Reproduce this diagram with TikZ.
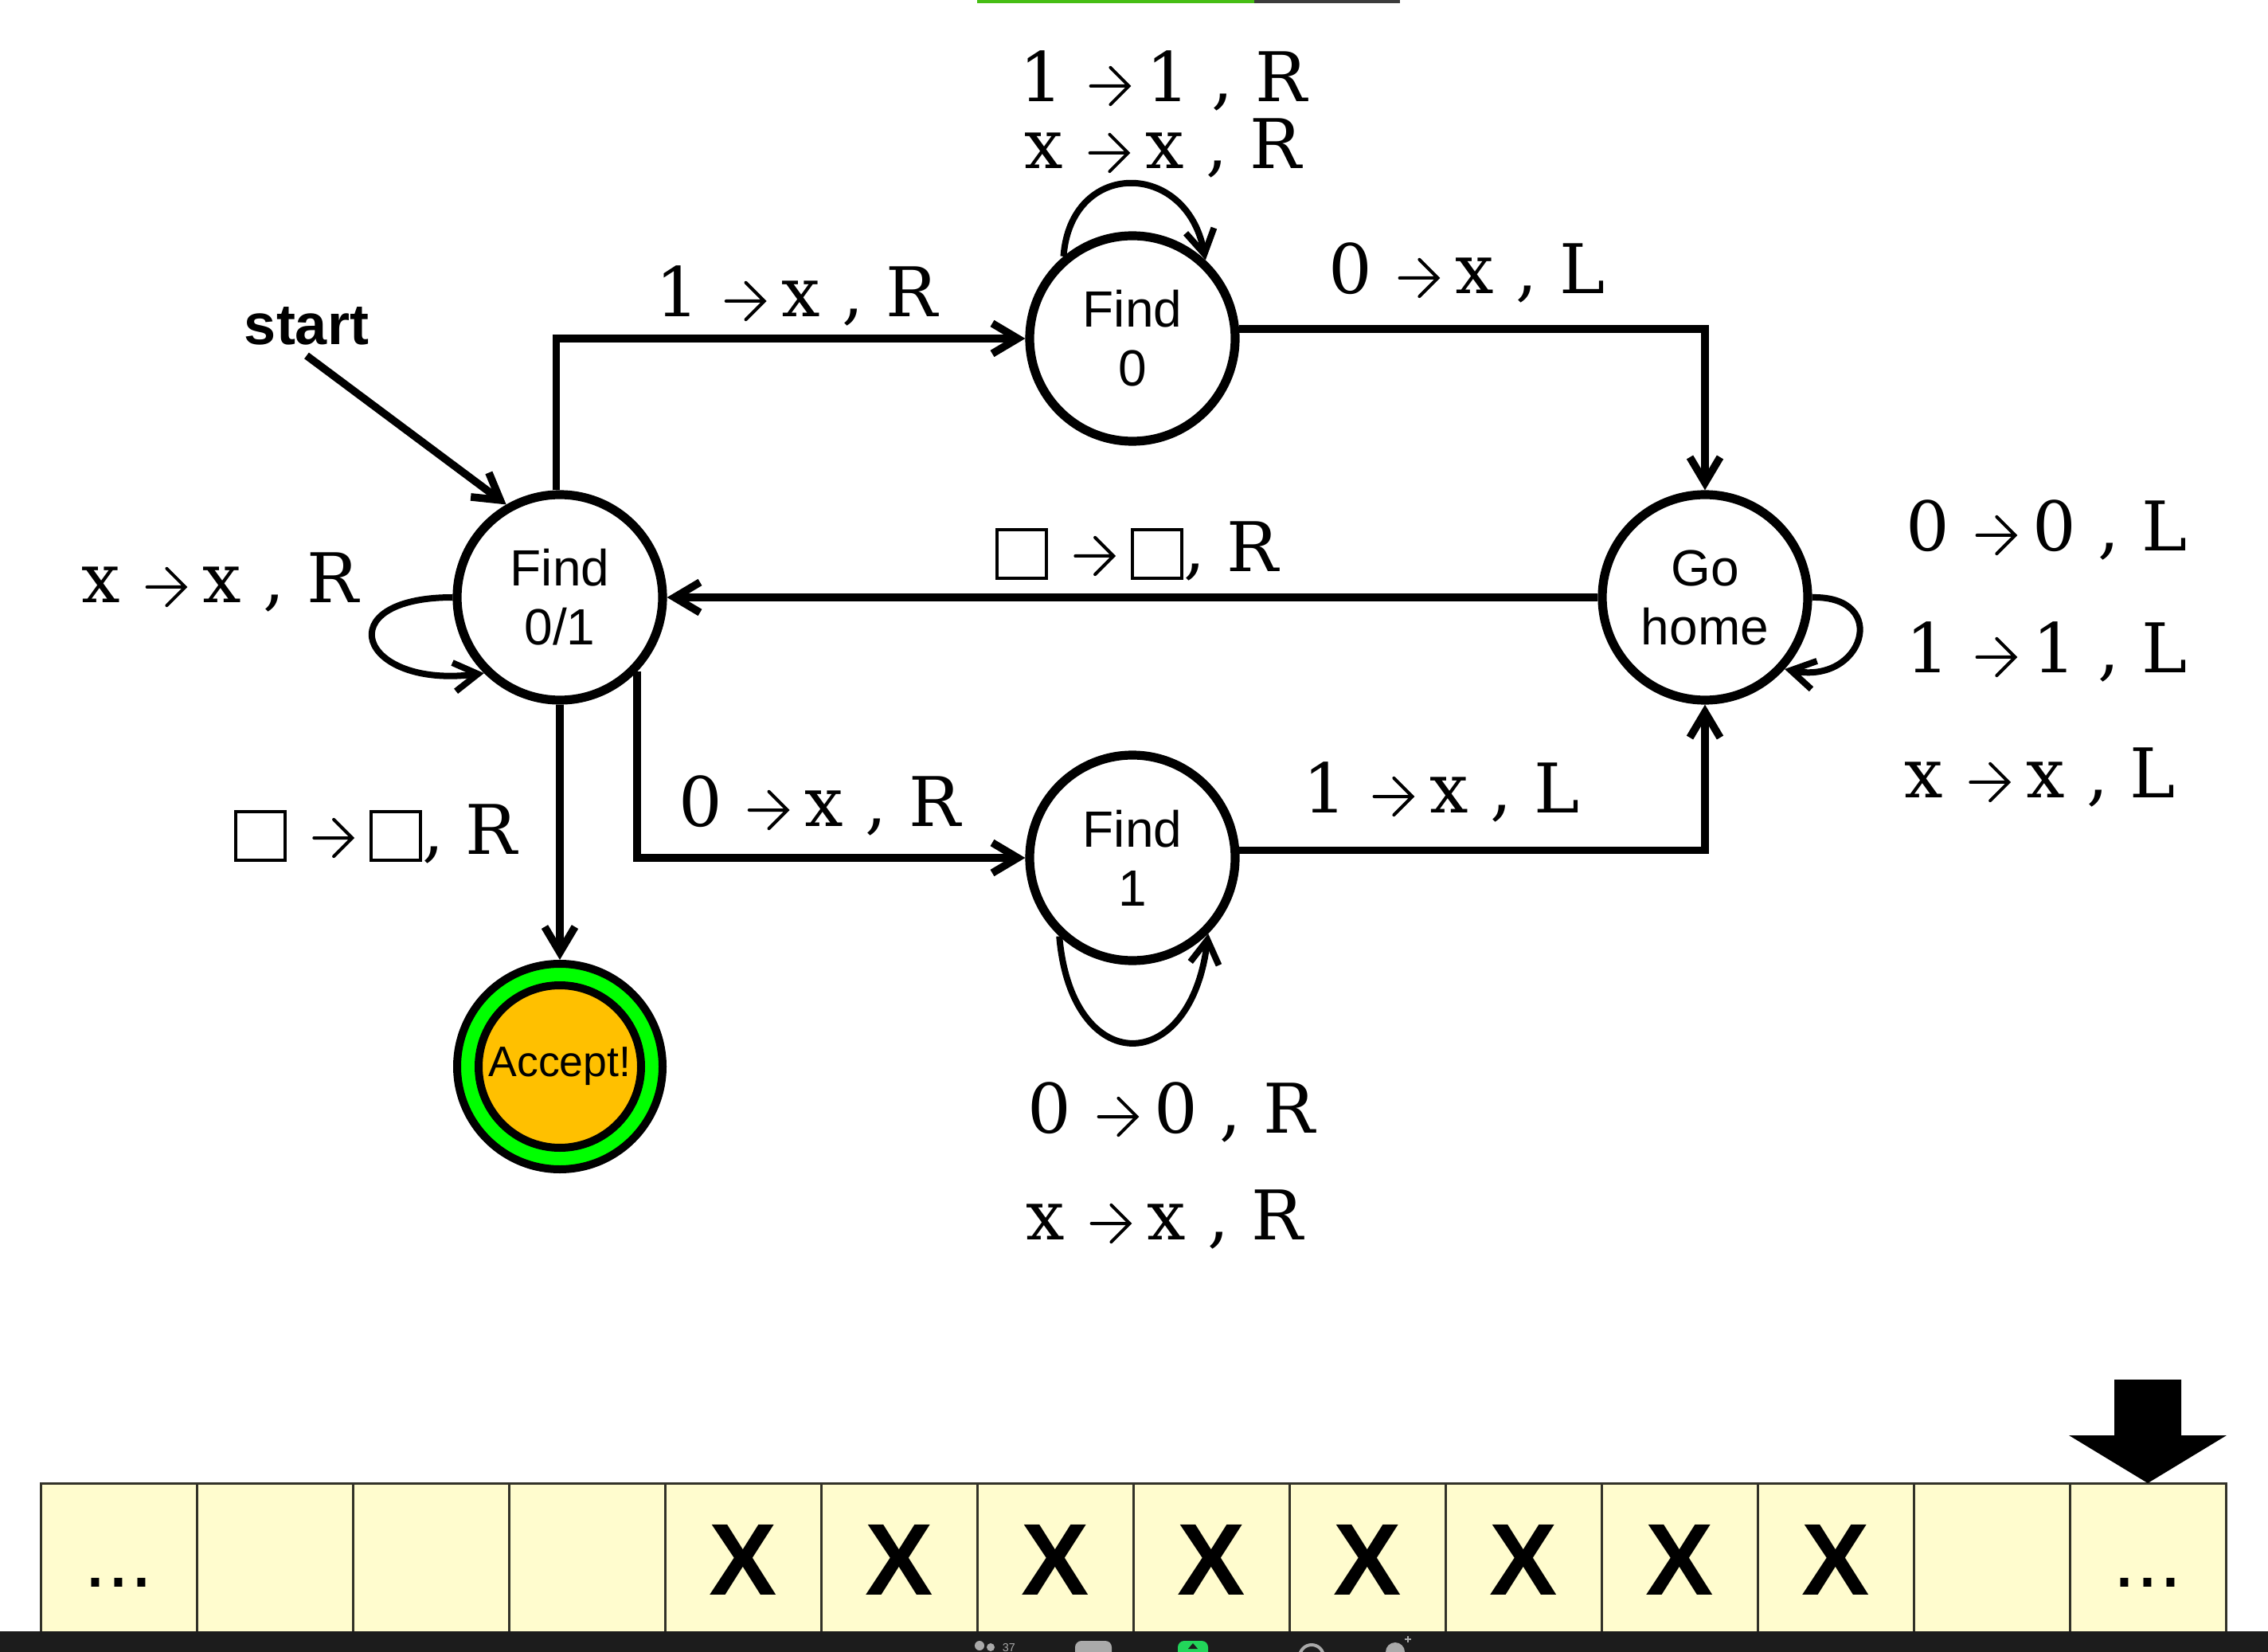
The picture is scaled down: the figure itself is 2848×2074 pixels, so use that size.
\documentclass[tikz,border=0pt]{standalone}
\usepackage{fontspec}
\setmainfont{Liberation Sans}
\newfontfamily\labelfont{DejaVu Serif}
\usetikzlibrary{arrows.meta}

\definecolor{tapefill}{RGB}{255,252,206}
\definecolor{tapeline}{RGB}{50,50,40}
\definecolor{accgreen}{RGB}{0,255,0}
\definecolor{accorange}{RGB}{255,192,0}
\definecolor{barback}{RGB}{28,28,28}
\definecolor{progress}{RGB}{70,190,20}
\definecolor{progressrest}{RGB}{60,60,60}
\definecolor{icongray}{RGB}{170,170,170}
\definecolor{icongreen}{RGB}{34,214,90}

\newsavebox\arrowglyph
\newsavebox\blankglyph
\newcommand\goesto{\hspace{8pt}\usebox\arrowglyph\hspace{5pt}}
\newcommand\tblank{\usebox\blankglyph}

\begin{document}
% small arrow and blank-cell symbol used inside the transition rules
\sbox\arrowglyph{\begin{pgfpicture}%
  \pgfsetbaseline{0pt}%
  \pgfsetlinewidth{1pt}\pgfsetroundcap
  \pgfpathmoveto{\pgfpoint{0pt}{5pt}}\pgfpathlineto{\pgfpoint{12pt}{5pt}}%
  \pgfpathmoveto{\pgfpoint{6.2pt}{10.8pt}}\pgfpathlineto{\pgfpoint{12pt}{5pt}}%
  \pgfpathlineto{\pgfpoint{6.2pt}{-0.8pt}}%
  \pgfusepath{stroke}%
  \end{pgfpicture}}
\sbox\blankglyph{\begin{pgfpicture}%
  \pgfsetbaseline{0pt}%
  \pgfsetlinewidth{1pt}%
  \pgfpathrectanglecorners{\pgfpoint{0.5pt}{-2pt}}{\pgfpoint{16pt}{13.3pt}}%
  \pgfusepath{stroke}%
  \end{pgfpicture}}%
\begin{tikzpicture}[x=0.25pt,y=-0.25pt,
  state/.style={circle, draw, line width=2.8pt, minimum size=64.5pt,
    inner sep=0pt, align=center, fill=white,
    font=\fontsize{16pt}{18.5pt}\selectfont},
  edge/.style={line width=2.4pt, -{Straight Barb[length=8pt,width=9.5pt]}},
  loopedge/.style={line width=2pt, -{Straight Barb[length=7.5pt,width=9pt]}},
  trlabel/.style={font=\labelfont\fontsize{21.5pt}{26pt}\selectfont,
    anchor=base, inner sep=0pt},
  tapecell/.style={fill=tapefill, draw=tapeline, line width=0.75pt},
  tapemark/.style={font=\bfseries\fontsize{32pt}{32pt}\selectfont, inner sep=0pt},
  tapedots/.style={font=\fontsize{26pt}{26pt}\selectfont, anchor=base, inner sep=0pt}
]
\useasboundingbox (0,0) rectangle (2848,2074);
\fill[white] (0,0) rectangle (2848,2074);

% progress strip along the top edge
\fill[progress] (1227,0) rectangle (1575,4);
\fill[progressrest] (1575,0) rectangle (1758,4);

% states
\node[state] (find01) at (703,750) {Find\\0/1};
\node[state] (find0) at (1422,425) {Find\\0};
\node[state] (gohome) at (2141,750) {Go\\home};
\node[state] (find1) at (1422,1077) {Find\\1};
\node[circle, draw, fill=accgreen, line width=2.5pt, minimum size=64.5pt,
  inner sep=0pt] (accept) at (703,1339) {};
\node[circle, draw, fill=accorange, line width=2.5pt, minimum size=51pt,
  inner sep=0pt, font=\fontsize{13.4pt}{15pt}\selectfont] (acceptcore) at (accept) {Accept!};

\node[font=\bfseries\fontsize{18pt}{18pt}\selectfont, anchor=base, inner sep=3pt]
  (start) at (385,433) {start};

% transitions
\draw[edge] (start.south) -- (find01.120);
\draw[edge] (find01.92) |- (find0.west);
\draw[edge] (find0.5) -| (gohome.north);
\draw[edge] (gohome.west) -- (find01.east);
\draw[edge] (find01.-44) |- (find1.west);
\draw[edge] (find1.4) -| (gohome.south);
\draw[edge] (find01.south) -- (accept.north);

% self-loops
\draw[loopedge] (find0.130) .. controls +(9,-122) and +(-24,-126) .. (find0.47);
\draw[loopedge] (find1.-133) .. controls +(15,178) and +(-22,181) .. (find1.-45);
\draw[loopedge] (gohome.0) .. controls +(99,-2) and +(99,20) .. (gohome.-42);
\draw[loopedge] (find01.180) .. controls +(-158,0) and +(-158,20) .. (find01.225);

% transition rules
\node[trlabel] (r0a) at (1461,128) {1\goesto 1 , R};
\node[trlabel] (r0b) at (1460,212) {x\goesto x , R};
\node[trlabel] (r1) at (1000,398) {1\goesto x , R};
\node[trlabel] (r2) at (1842,369) {0\goesto x , L};
\node[trlabel] (r3) at (1428,718) {\tblank\goesto\tblank, R};
\node[trlabel] (r4) at (276,757) {x\goesto x , R};
\node[trlabel] (r5) at (472,1072) {\tblank\goesto\tblank, R};
\node[trlabel] (r6) at (1029,1037) {0\goesto x , R};
\node[trlabel] (r7) at (1810,1020) {1\goesto x , L};
\node[trlabel] (r8a) at (1471,1422) {0\goesto 0 , R};
\node[trlabel] (r8b) at (1462,1556) {x\goesto x , R};
\node[trlabel, anchor=base west] (r9a) at (2393,692) {0\goesto 0 , L};
\node[trlabel, anchor=base west] (r9b) at (2393,845) {1\goesto 1 , L};
\node[trlabel, anchor=base west] (r9c) at (2391,1002) {x\goesto x , L};

% tape
\foreach \i in {0,...,13}
  \draw[tapecell] ({51+196*\i},1862) rectangle ({51+196*(\i+1)},2060);
\foreach \i in {4,...,11}
  \node[tapemark] (mark\i) at ({51+196*\i+98},1958) {X};
\node[tapedots] (dotsl) at (149,1992) {...};
\node[tapedots] (dotsr) at (2697,1992) {...};

% tape head
\fill (2655,1732) -- (2739,1732) -- (2739,1802) -- (2796,1802)
  -- (2697,1862) -- (2598,1802) -- (2655,1802) -- cycle;

% toolbar strip along the bottom edge
\fill[barback] (0,2048) rectangle (2848,2074);
\fill[icongray] (1230,2066) circle (6);
\fill[icongray] (1244,2068) circle (5);
\node[text=icongray, font=\fontsize{3.6pt}{4pt}\selectfont, anchor=base west,
  inner sep=0pt] (count) at (1258,2073) {37};
\fill[icongray, rounded corners=2pt] (1350,2060) rectangle (1396,2082);
\fill[icongreen, rounded corners=2pt] (1479,2060) rectangle (1517,2082);
\fill[barback] (1498,2063) -- (1504,2070) -- (1492,2070) -- cycle;
\draw[icongray, line width=1pt] (1647,2080) circle (15);
\fill[icongray] (1752,2074) circle (12);
\draw[icongray, line width=0.6pt] (1764,2058) -- (1772,2058) (1768,2054) -- (1768,2062);
\end{tikzpicture}
\end{document}
